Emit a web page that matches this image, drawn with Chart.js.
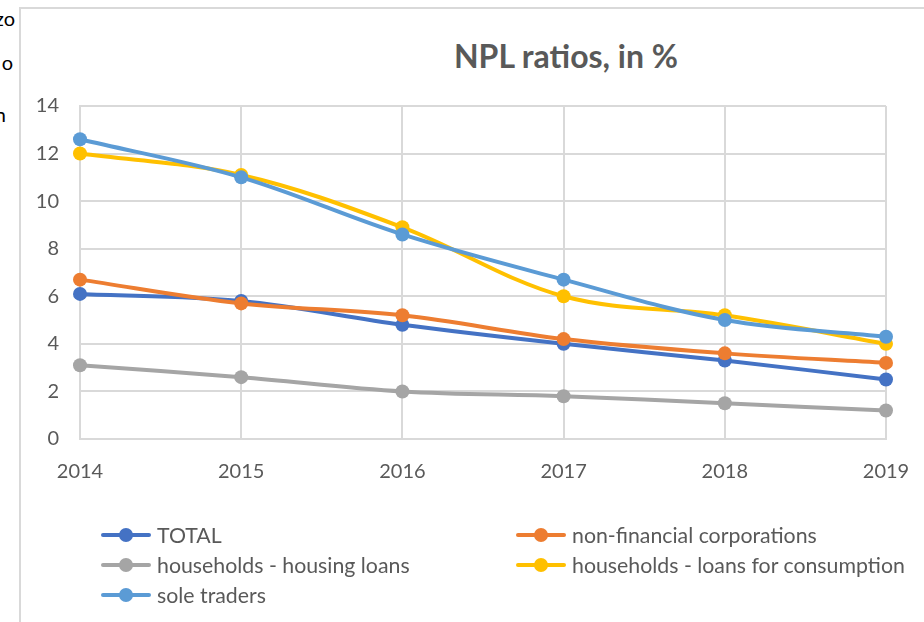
<!DOCTYPE html>
<html>
<head>
<meta charset="utf-8">
<script src="https://cdn.jsdelivr.net/npm/chart.js@4"></script>
<style>
  html, body { margin: 0; padding: 0; background: #fff; }
  body { width: 924px; height: 622px; position: relative; overflow: hidden; font-family: Lato, "Open Sans", sans-serif; }
  #frame { position: absolute; left: 19px; top: 7px; right: -4px; bottom: -4px; border: 2px solid #d9d9d9; }
  #chartBox { position: absolute; left: 0; top: 0; width: 924px; height: 622px; }
  #title { position: absolute; left: 366px; width: 400px; top: 36px; text-align: center; font-size: 32px; font-weight: bold; color: #595959; }
  .side { position: absolute; left: 0; width: 16px; overflow: hidden; font-size: 20px; color: #000; white-space: nowrap; }
  .side span { position: absolute; right: 0; }
  #legend { position: absolute; left: 0; top: 0; }
  .item { position: absolute; height: 30px; display: flex; align-items: center; font-size: 21.3px; color: #595959; white-space: nowrap; }
  .mark { position: relative; width: 50px; height: 30px; margin-right: 6px; }
  .mark .ln { position: absolute; left: 0; right: 0; top: 13px; height: 4px; border-radius: 2px; }
  .mark .dt { position: absolute; left: 18px; top: 8px; width: 14px; height: 14px; border-radius: 50%; }
</style>
</head>
<body>
<div class="side" style="top:6px;height:26px"><span style="right:1px">zo</span></div>
<div class="side" style="top:50px;height:26px"><span style="right:3px">o</span></div>
<div class="side" style="top:102px;height:26px;width:6px"><span>n</span></div>
<div id="frame"></div>
<div id="title">NPL ratios, in %</div>
<div id="chartBox"><canvas id="nplChart" width="924" height="622"></canvas></div>
<div id="legend"></div>
<script>
// years and NPL ratios per segment
const years = ['2014', '2015', '2016', '2017', '2018', '2019'];
const total = [6.1, 5.8, 4.8, 4.0, 3.3, 2.5];
const nonFinancial = [6.7, 5.7, 5.2, 4.2, 3.6, 3.2];
const housingLoans = [3.1, 2.6, 2.0, 1.8, 1.5, 1.2];
const consumerLoans = [12.0, 11.1, 8.9, 6.0, 5.2, 4.0];
const soleTraders = [12.6, 11.0, 8.6, 6.7, 5.0, 4.3];
const yTicks = [0, 2, 4, 6, 8, 10, 12, 14];

const series = [
  { label: 'TOTAL', data: total, color: '#4472c4' },
  { label: 'non-financial corporations', data: nonFinancial, color: '#ed7d31' },
  { label: 'households - housing loans', data: housingLoans, color: '#a5a5a5' },
  { label: 'households - loans for consumption', data: consumerLoans, color: '#ffc000' },
  { label: 'sole traders', data: soleTraders, color: '#5b9bd5' }
];

const gridColor = '#d9d9d9';
const textColor = '#595959';
const font = 'Lato, "Open Sans", sans-serif';

new Chart(document.getElementById('nplChart'), {
  type: 'line',
  data: {
    labels: years,
    datasets: series.map((s, i) => ({
      label: s.label,
      data: s.data,
      borderColor: s.color,
      backgroundColor: s.color,
      borderWidth: 4,
      pointRadius: 7,
      pointHoverRadius: 7,
      pointBorderWidth: 0,
      tension: 0.35,
      order: series.length - i // later series sit on top
    }))
  },
  options: {
    responsive: false,
    animation: false,
    layout: { padding: { left: 20, right: 38, top: 106, bottom: 130 } },
    plugins: {
      legend: { display: false },
      tooltip: { enabled: false },
      title: { display: false }
    },
    scales: {
      x: {
        offset: false,
        grid: { color: gridColor, lineWidth: 2, drawTicks: false },
        border: { color: gridColor, width: 2 },
        ticks: { color: textColor, font: { family: font, size: 20 }, padding: 21, maxRotation: 0 },
        afterFit: s => {
          s.height = 53;
          // edge labels fit inside the layout padding already
          s.paddingLeft = 0;
          s.paddingRight = 0;
        }
      },
      y: {
        min: 0,
        max: 14,
        afterBuildTicks: s => { s.ticks = yTicks.map(v => ({ value: v })); },
        grid: { color: gridColor, lineWidth: 2, drawTicks: false },
        border: { color: gridColor, width: 2 },
        ticks: { color: textColor, font: { family: font, size: 20 }, padding: 21 },
        afterFit: s => { s.width = 60; }
      }
    }
  }
});

// two-column legend below the plot
const legend = document.getElementById('legend');
const cols = [101, 516];
const rows = [520, 550, 580];
series.forEach((s, i) => {
  const el = document.createElement('div');
  el.className = 'item';
  el.style.left = cols[i % 2] + 'px';
  el.style.top = rows[Math.floor(i / 2)] + 'px';
  el.innerHTML = '<div class="mark"><div class="ln" style="background:' + s.color + '"></div>' +
    '<div class="dt" style="background:' + s.color + '"></div></div><span>' + s.label + '</span>';
  legend.appendChild(el);
});
</script>
</body>
</html>
